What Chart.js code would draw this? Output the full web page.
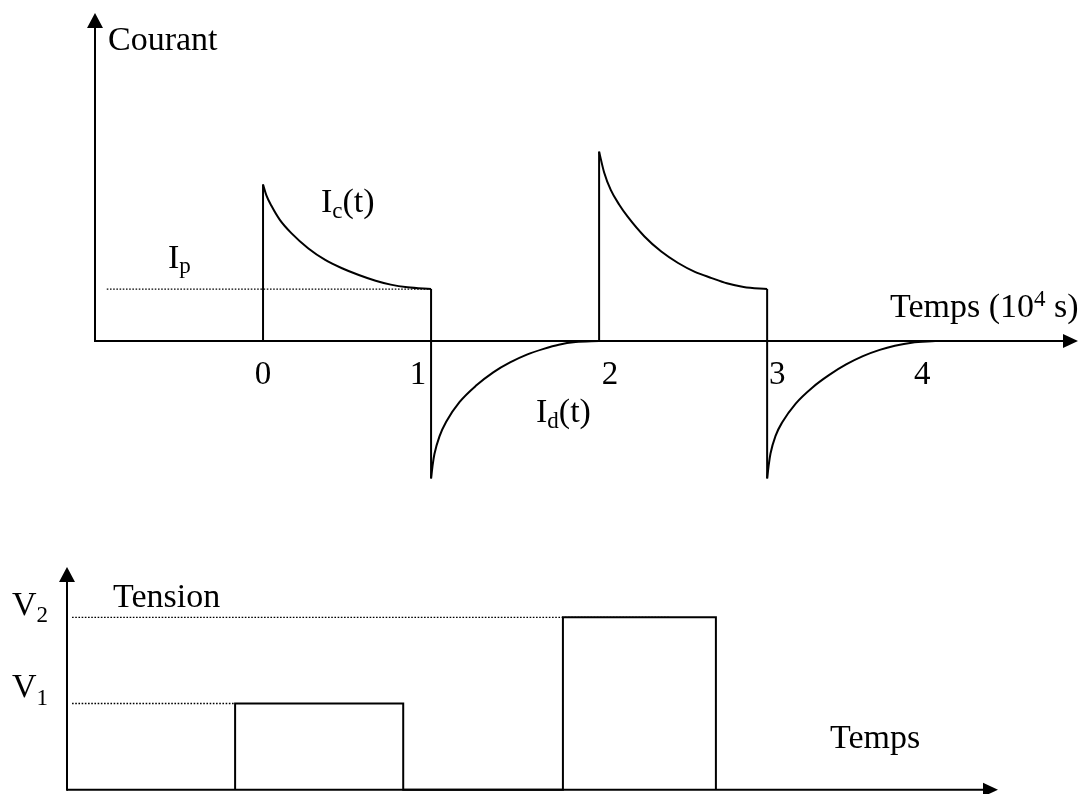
<!DOCTYPE html>
<html>
<head>
<meta charset="utf-8">
<title>Courant et tension</title>
<script src="https://cdn.jsdelivr.net/npm/chart.js"></script>
<style>
  body { margin: 0; background: #fff; }
  #wrap { position: relative; width: 1078px; height: 794px; }
  #courant { position: absolute; left: 0; top: 0; }
  #tension { position: absolute; left: 0; top: 540px; }
</style>
</head>
<body>
<div id="wrap">
  <canvas id="courant" width="1078" height="500"></canvas>
  <canvas id="tension" width="1078" height="254"></canvas>
</div>
<script>
// temps en 10^4 s, courant en unites de Ip
var ticksT = [0, 1, 2, 3, 4];
var Ip = 1;

// charge 1 (0 -> 1)
var charge1T = [0, 0.02, 0.05, 0.10, 0.17, 0.27, 0.37, 0.47, 0.57, 0.67, 0.76, 0.86, 1.0];
var charge1I = [3.01, 2.80, 2.60, 2.33, 2.07, 1.78, 1.56, 1.40, 1.27, 1.16, 1.085, 1.035, 1.0];
// decharge 1 (1 -> 2)
var decharge1T = [1.0, 1.01, 1.02, 1.05, 1.09, 1.17, 1.27, 1.37, 1.47, 1.57, 1.67, 1.76, 1.86, 2.0];
var decharge1I = [-2.64, -2.37, -2.17, -1.83, -1.55, -1.17, -0.85, -0.60, -0.41, -0.26, -0.15, -0.07, -0.02, 0];
// charge 2 (2 -> 3)
var charge2T = [2.0, 2.03, 2.07, 2.12, 2.17, 2.27, 2.37, 2.47, 2.57, 2.67, 2.76, 2.86, 3.0];
var charge2I = [3.64, 3.24, 2.90, 2.62, 2.39, 2.01, 1.72, 1.50, 1.33, 1.21, 1.11, 1.04, 1.0];
// decharge 2 (3 -> 4)
var decharge2T = [3.0, 3.01, 3.02, 3.05, 3.09, 3.17, 3.27, 3.37, 3.47, 3.57, 3.67, 3.76, 3.86, 4.0];
var decharge2I = [-2.64, -2.37, -2.16, -1.82, -1.56, -1.20, -0.89, -0.65, -0.45, -0.29, -0.17, -0.09, -0.03, 0];

// tension (impulsions), en unites de V1
var tensionT = [0, 0, 1, 1, 1.95, 1.95, 2.86, 2.86];
var tensionV = [0, 1, 1, 0, 0, 2, 2, 0];
var V1 = 1, V2 = 2;

function pts(xs, ys){
    var out = [];
    for(var i = 0; i < xs.length; i++){
        out.push({x: xs[i], y: ys[i]});
    }
    return out;
}

function lineSet(data, smooth){
    return {
        data: data,
        borderColor: '#000',
        borderWidth: 2,
        pointRadius: 0,
        fill: false,
        tension: 0,
        cubicInterpolationMode: smooth ? 'monotone' : 'default'
    };
}

function dotSet(data){
    return {
        data: data,
        borderColor: '#000',
        borderWidth: 1.3,
        borderDash: [1.6, 1.6],
        pointRadius: 0,
        fill: false,
        tension: 0
    };
}

var FONT = '"Liberation Serif", "Times New Roman", serif';

// texte avec indices / exposants
function rich(ctx, parts, x, y){
    ctx.save();
    ctx.fillStyle = '#000';
    ctx.textBaseline = 'alphabetic';
    ctx.textAlign = 'left';
    for(var i = 0; i < parts.length; i++){
        var p = parts[i];
        var size = p.sub || p.sup ? 23 : 34;
        var dy = p.sub ? p.sub : (p.sup ? p.sup : 0);
        ctx.font = size + 'px ' + FONT;
        ctx.fillText(p.t, x, y + dy);
        x += ctx.measureText(p.t).width;
    }
    ctx.restore();
}

function arrowUp(ctx, x, y0, y1){
    ctx.beginPath();
    ctx.moveTo(x, y0);
    ctx.lineTo(x, y1 + 14);
    ctx.stroke();
    ctx.beginPath();
    ctx.moveTo(x, y1);
    ctx.lineTo(x - 8, y1 + 15);
    ctx.lineTo(x + 8, y1 + 15);
    ctx.closePath();
    ctx.fill();
}

function arrowRight(ctx, y, x0, x1){
    ctx.beginPath();
    ctx.moveTo(x0, y);
    ctx.lineTo(x1 - 14, y);
    ctx.stroke();
    ctx.beginPath();
    ctx.moveTo(x1, y);
    ctx.lineTo(x1 - 15, y - 7);
    ctx.lineTo(x1 - 15, y + 7);
    ctx.closePath();
    ctx.fill();
}

var tickShift = [0, -13, 11, 10, -13];

var courantAxes = {
    id: 'courantAxes',
    beforeDatasetsDraw: function(chart){
        var ctx = chart.ctx, xs = chart.scales.x, ys = chart.scales.y;
        var x0 = xs.getPixelForValue(xs.min), y0 = ys.getPixelForValue(0);
        ctx.save();
        ctx.strokeStyle = '#000';
        ctx.fillStyle = '#000';
        ctx.lineWidth = 2;
        arrowUp(ctx, x0, y0 + 1, 13);
        arrowRight(ctx, y0, x0, 1078);
        ctx.restore();
    },
    afterDraw: function(chart){
        var ctx = chart.ctx, xs = chart.scales.x;
        ctx.save();
        ctx.font = '33px ' + FONT;
        ctx.fillStyle = '#000';
        ctx.textAlign = 'center';
        for(var i = 0; i < ticksT.length; i++){
            ctx.fillText(String(ticksT[i]), xs.getPixelForValue(ticksT[i]) + tickShift[i], 384);
        }
        ctx.restore();
        rich(ctx, [{t: 'Courant'}], 108, 50);
        rich(ctx, [{t: 'I'}, {t: 'c', sub: 6}, {t: '(t)'}], 321, 212);
        rich(ctx, [{t: 'I'}, {t: 'p', sub: 5}], 168, 268);
        rich(ctx, [{t: 'I'}, {t: 'd', sub: 6}, {t: '(t)'}], 536, 422);
        rich(ctx, [{t: 'Temps (10'}, {t: '4', sup: -11}, {t: ' s)'}], 890, 317);
    }
};

var tensionAxes = {
    id: 'tensionAxes',
    beforeDatasetsDraw: function(chart){
        var ctx = chart.ctx, xs = chart.scales.x, ys = chart.scales.y;
        var x0 = xs.getPixelForValue(xs.min), y0 = ys.getPixelForValue(0);
        ctx.save();
        ctx.strokeStyle = '#000';
        ctx.fillStyle = '#000';
        ctx.lineWidth = 2;
        arrowUp(ctx, x0, y0 + 1, 27);
        arrowRight(ctx, y0, x0, 998);
        ctx.restore();
    },
    afterDraw: function(chart){
        var ctx = chart.ctx;
        rich(ctx, [{t: 'V'}, {t: '2', sub: 7}], 12, 75);
        rich(ctx, [{t: 'V'}, {t: '1', sub: 8}], 12, 157);
        rich(ctx, [{t: 'Tension'}], 113, 67);
        rich(ctx, [{t: 'Temps'}], 830, 208);
    }
};

function hiddenScale(min, max){
    return { type: 'linear', min: min, max: max, display: false };
}

new Chart(document.getElementById('courant').getContext('2d'), {
    type: 'line',
    data: {
        datasets: [
            dotSet([{x: -0.93, y: Ip}, {x: 1, y: Ip}]),
            lineSet([{x: 0, y: 0}, {x: 0, y: charge1I[0]}], false),
            lineSet(pts(charge1T, charge1I), true),
            lineSet([{x: 1, y: charge1I[charge1I.length - 1]}, {x: 1, y: decharge1I[0]}], false),
            lineSet(pts(decharge1T, decharge1I), true),
            lineSet([{x: 2, y: 0}, {x: 2, y: charge2I[0]}], false),
            lineSet(pts(charge2T, charge2I), true),
            lineSet([{x: 3, y: charge2I[charge2I.length - 1]}, {x: 3, y: decharge2I[0]}], false),
            lineSet(pts(decharge2T, decharge2I), true)
        ]
    },
    options: {
        responsive: false,
        animation: false,
        devicePixelRatio: 1,
        layout: { padding: { left: 95, right: 0, top: 8, bottom: 8 } },
        scales: { x: hiddenScale(-1, 4.85), y: hiddenScale(-2.9, 6.4) },
        plugins: { legend: { display: false }, tooltip: { enabled: false } }
    },
    plugins: [courantAxes]
});

new Chart(document.getElementById('tension').getContext('2d'), {
    type: 'line',
    data: {
        datasets: [
            dotSet([{x: -0.97, y: V1}, {x: 0, y: V1}]),
            dotSet([{x: -0.97, y: V2}, {x: 2.59, y: V2}]),
            lineSet(pts(tensionT, tensionV), false)
        ]
    },
    options: {
        responsive: false,
        animation: false,
        devicePixelRatio: 1,
        layout: { padding: { left: 67, right: 78, top: 4, bottom: 0 } },
        scales: { x: hiddenScale(-1, 4.55), y: hiddenScale(-0.05, 2.85) },
        plugins: { legend: { display: false }, tooltip: { enabled: false } }
    },
    plugins: [tensionAxes]
});
</script>
</body>
</html>
